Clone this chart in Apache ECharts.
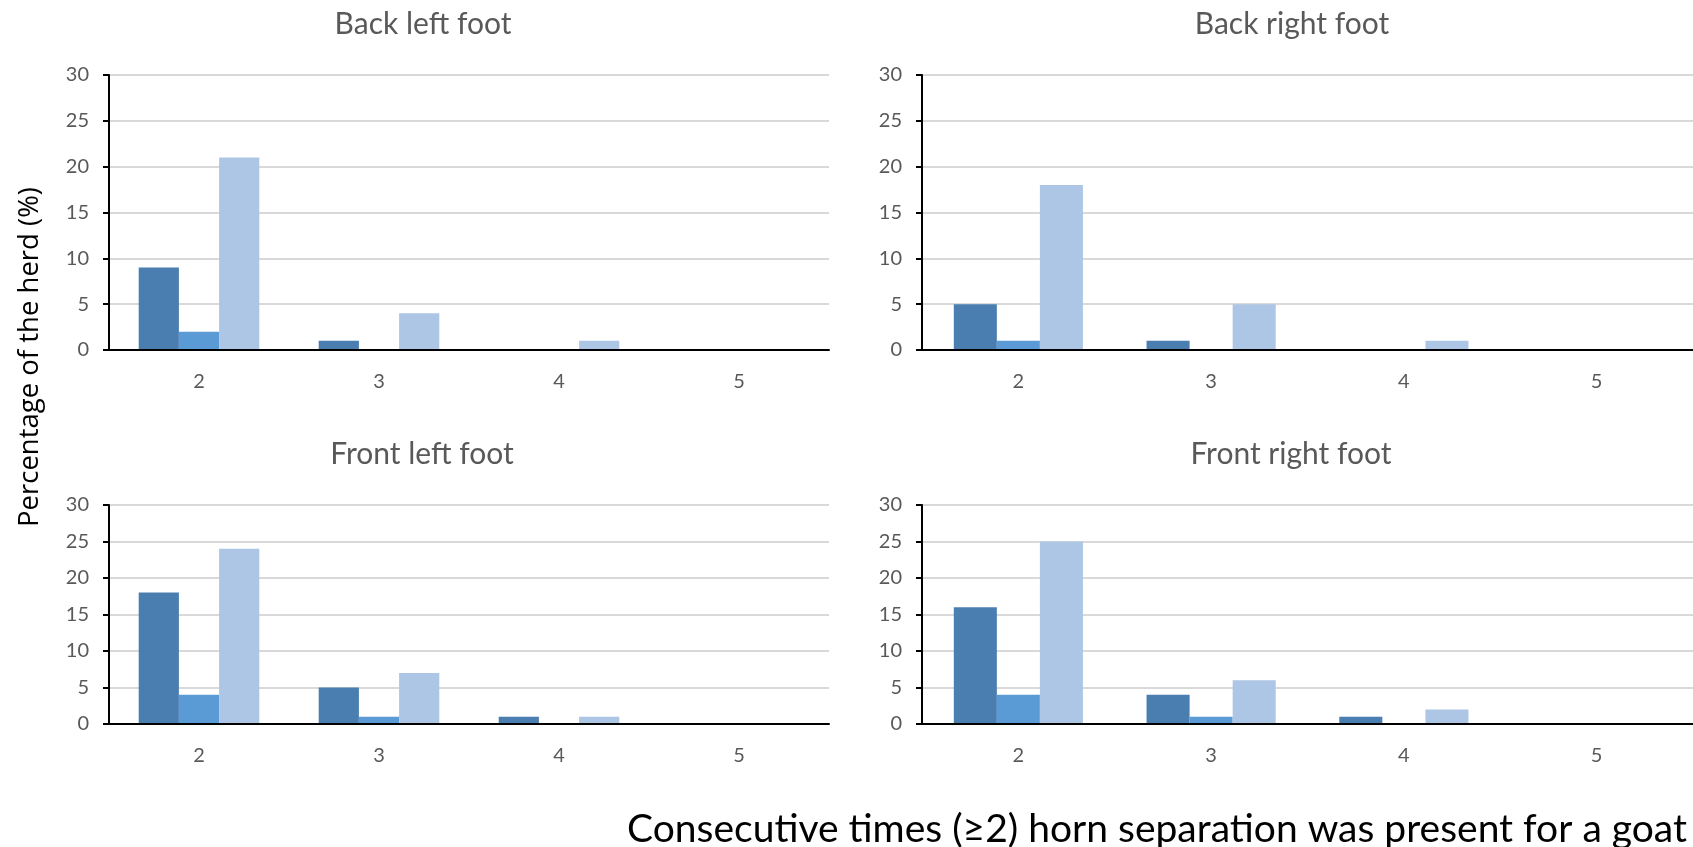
<!DOCTYPE html>
<html>
<head>
<meta charset="utf-8">
<script src="https://cdn.jsdelivr.net/npm/echarts@6/dist/echarts.min.js"></script>
<style>
  html, body { margin: 0; padding: 0; background: #ffffff; }
  #chart { width: 1693px; height: 847px; }
</style>
</head>
<body>
<div id="chart"></div>
<script>
// Consecutive visits (>=2) with horn separation, per foot
const categories = ['2', '3', '4', '5'];
const yTicks = { min: 0, max: 30, interval: 5 };

const backLeftS1 = [9, 1, 0, 0];
const backLeftS2 = [2, 0, 0, 0];
const backLeftS3 = [21, 4, 1, 0];

const backRightS1 = [5, 1, 0, 0];
const backRightS2 = [1, 0, 0, 0];
const backRightS3 = [18, 5, 1, 0];

const frontLeftS1 = [18, 5, 1, 0];
const frontLeftS2 = [4, 1, 0, 0];
const frontLeftS3 = [24, 7, 1, 0];

const frontRightS1 = [16, 4, 1, 0];
const frontRightS2 = [4, 1, 0, 0];
const frontRightS3 = [25, 6, 2, 0];

const panelTitles = ['Back left foot', 'Back right foot', 'Front left foot', 'Front right foot'];
const yAxisTitle = 'Percentage of the herd (%)';
const xAxisTitle = 'Consecutive times (≥2) horn separation was present for a goat';

const seriesNames = ['Series 1', 'Series 2', 'Series 3'];
const seriesColors = ['#4A7EB0', '#5B9BD5', '#AEC6E5'];

const panels = [
  [backLeftS1, backLeftS2, backLeftS3],
  [backRightS1, backRightS2, backRightS3],
  [frontLeftS1, frontLeftS2, frontLeftS3],
  [frontRightS1, frontRightS2, frontRightS3]
];

const labelFont = 'Lato, "Open Sans", sans-serif';

const grids = [
  { left: 109, top: 75, width: 720, height: 275 },
  { left: 922, top: 75, width: 776, height: 275 },
  { left: 109, top: 505, width: 720, height: 219 },
  { left: 922, top: 505, width: 776, height: 219 }
];

const titlePos = [
  { x: 423, y: 24 },
  { x: 1292, y: 24 },
  { x: 422, y: 454 },
  { x: 1291, y: 454 }
];

const xAxes = grids.map((g, i) => ({
  type: 'category',
  gridIndex: i,
  data: categories,
  boundaryGap: true,
  axisLine: { show: true, lineStyle: { color: '#000000', width: 2 } },
  axisTick: { show: false },
  axisLabel: { color: '#595959', fontFamily: labelFont, fontSize: 20, margin: 22 },
  splitLine: { show: false },
  z: 3
}));

const yAxes = grids.map((g, i) => ({
  type: 'value',
  gridIndex: i,
  min: yTicks.min,
  max: yTicks.max,
  interval: yTicks.interval,
  axisLine: { show: true, lineStyle: { color: '#000000', width: 2 } },
  axisTick: { show: true, length: 6, lineStyle: { color: '#000000', width: 2 } },
  axisLabel: { color: '#595959', fontFamily: labelFont, fontSize: 20, margin: 20 },
  splitLine: { show: true, lineStyle: { color: '#D9D9D9', width: 2 } }
}));

const series = [];
panels.forEach((panel, p) => {
  panel.forEach((values, s) => {
    series.push({
      name: seriesNames[s],
      type: 'bar',
      xAxisIndex: p,
      yAxisIndex: p,
      data: values,
      barGap: '0%',
      barCategoryGap: '33%',
      itemStyle: { color: seriesColors[s] },
      emphasis: { disabled: true }
    });
  });
});

const graphics = panelTitles.map((t, i) => ({
  type: 'text',
  x: titlePos[i].x,
  y: titlePos[i].y,
  style: {
    text: t,
    fill: '#595959',
    font: '30px ' + labelFont,
    textAlign: 'center',
    textVerticalAlign: 'middle'
  }
}));

graphics.push({
  type: 'text',
  x: 30,
  y: 357,
  rotation: Math.PI / 2,
  style: {
    text: yAxisTitle,
    fill: '#000000',
    font: '27.5px "Open Sans", sans-serif',
    textAlign: 'center',
    textVerticalAlign: 'middle'
  }
});

graphics.push({
  type: 'text',
  x: 1157,
  y: 829,
  style: {
    text: xAxisTitle,
    fill: '#000000',
    font: '39px ' + labelFont,
    textAlign: 'center',
    textVerticalAlign: 'middle'
  }
});

const chart = echarts.init(document.getElementById('chart'), null, { renderer: 'canvas' });
chart.setOption({
  animation: false,
  backgroundColor: '#ffffff',
  grid: grids,
  xAxis: xAxes,
  yAxis: yAxes,
  series: series,
  graphic: graphics
});
</script>
</body>
</html>
